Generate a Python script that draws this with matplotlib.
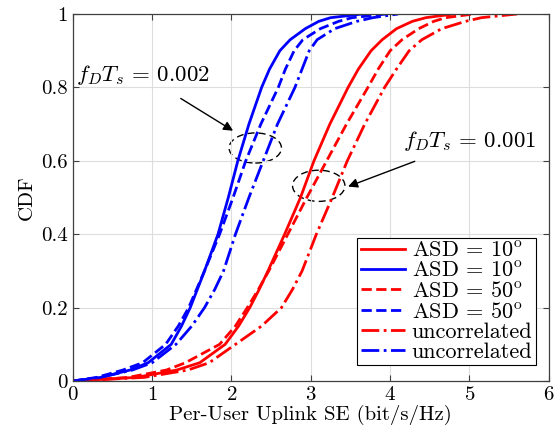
import matplotlib.pyplot as plt
from matplotlib.patches import Ellipse

plt.rcParams["font.family"] = ["cmr10", "DejaVu Serif"]
plt.rcParams["mathtext.fontset"] = "cm"
plt.rcParams["axes.formatter.use_mathtext"] = True

# CDF levels shared by every curve; x values at each level.
cdf_levels = [0.0, 0.01, 0.03, 0.05, 0.1, 0.15, 0.2, 0.25, 0.3, 0.4, 0.5, 0.6, 0.7,
              0.8, 0.85, 0.9, 0.93, 0.96, 0.98, 0.99, 1.0]

# f_D T_s = 0.002 (blue)
blue_asd10 = [0.0, 0.35, 0.72, 0.95, 1.24, 1.37, 1.48, 1.57, 1.66, 1.83, 1.96, 2.08, 2.22,
              2.38, 2.48, 2.61, 2.74, 2.93, 3.10, 3.25, 3.65]
blue_asd50 = [0.0, 0.30, 0.63, 0.88, 1.17, 1.33, 1.46, 1.56, 1.66, 1.85, 2.02, 2.18, 2.37,
              2.59, 2.68, 2.79, 2.90, 3.12, 3.35, 3.52, 3.95]
blue_uncorr = [0.0, 0.35, 0.75, 1.00, 1.30, 1.50, 1.66, 1.79, 1.90, 2.05, 2.22, 2.40, 2.58,
               2.80, 2.89, 2.98, 3.08, 3.30, 3.58, 3.78, 4.10]

# f_D T_s = 0.001 (red)
red_asd10 = [0.0, 0.80, 1.31, 1.60, 1.92, 2.09, 2.23, 2.35, 2.46, 2.67, 2.87, 3.04, 3.24,
             3.47, 3.60, 3.76, 3.90, 4.08, 4.28, 4.45, 4.80]
red_asd50 = [0.0, 0.70, 1.18, 1.42, 1.85, 2.05, 2.20, 2.34, 2.47, 2.71, 2.95, 3.20, 3.45,
             3.72, 3.85, 4.00, 4.15, 4.36, 4.55, 4.70, 5.05]
red_uncorr = [0.0, 0.90, 1.45, 1.72, 2.05, 2.38, 2.63, 2.77, 2.89, 3.07, 3.27, 3.46, 3.68,
              3.93, 4.08, 4.24, 4.40, 4.65, 4.95, 5.15, 5.60]

curves = [
    (red_asd10, "r", "-", r"ASD = 10$^{\mathrm{o}}$"),
    (blue_asd10, "b", "-", r"ASD = 10$^{\mathrm{o}}$"),
    (red_asd50, "r", "--", r"ASD = 50$^{\mathrm{o}}$"),
    (blue_asd50, "b", "--", r"ASD = 50$^{\mathrm{o}}$"),
    (red_uncorr, "r", "-.", "uncorrelated"),
    (blue_uncorr, "b", "-.", "uncorrelated"),
]

fig = plt.figure(figsize=(5.56, 4.38), dpi=100)
ax = fig.add_axes([0.131, 0.130, 0.856, 0.838])

for xs, color, style, label in curves:
    ax.plot(xs, cdf_levels, color=color, linestyle=style, linewidth=2, label=label)

ax.set_xlim(0, 6)
ax.set_ylim(0, 1)
ax.set_xticks([0, 1, 2, 3, 4, 5, 6])
ax.set_yticks([0, 0.2, 0.4, 0.6, 0.8, 1])
ax.set_yticklabels(["0", "0.2", "0.4", "0.6", "0.8", "1"])
ax.grid(True, color="#dddddd", linewidth=0.8)
ax.tick_params(direction="in", top=True, right=True, labelsize=15, length=4, colors="#404040", labelcolor="black")
for sp in ax.spines.values():
    sp.set_color("#404040")
    sp.set_linewidth(0.9)
ax.set_xlabel("Per-User Uplink SE (bit/s/Hz)", fontsize=15, labelpad=1)
ax.set_ylabel("CDF", fontsize=15, labelpad=4)

# annotations with dashed ellipses
ax.add_patch(Ellipse((2.30, 0.635), 0.66, 0.082, fill=False, linestyle=(0, (5, 3)), linewidth=1, edgecolor="k"))
ax.add_patch(Ellipse((3.10, 0.532), 0.66, 0.085, fill=False, linestyle=(0, (5, 3)), linewidth=1, edgecolor="k"))
ax.annotate(r"$f_DT_s\,=\,0.002$", xy=(2.02, 0.682), xytext=(0.88, 0.834), fontsize=16.5,
            ha="center", va="center",
            arrowprops=dict(arrowstyle="-|>", color="k", lw=1, shrinkA=12, shrinkB=0, mutation_scale=14))
ax.annotate(r"$f_DT_s\,=\,0.001$", xy=(3.47, 0.530), xytext=(5.0, 0.655), fontsize=16.5,
            ha="center", va="center",
            arrowprops=dict(arrowstyle="-|>", color="k", lw=1, shrinkA=12, shrinkB=0, mutation_scale=14))

leg = ax.legend(loc="lower right", bbox_to_anchor=(0.973, 0.044), fontsize=16, handlelength=2.0,
                fancybox=False, framealpha=1, edgecolor="k", borderpad=0.15, labelspacing=0.02,
                handletextpad=0.3, borderaxespad=0)
leg.get_frame().set_linewidth(0.8)

fig.savefig("out.png", dpi=100)
